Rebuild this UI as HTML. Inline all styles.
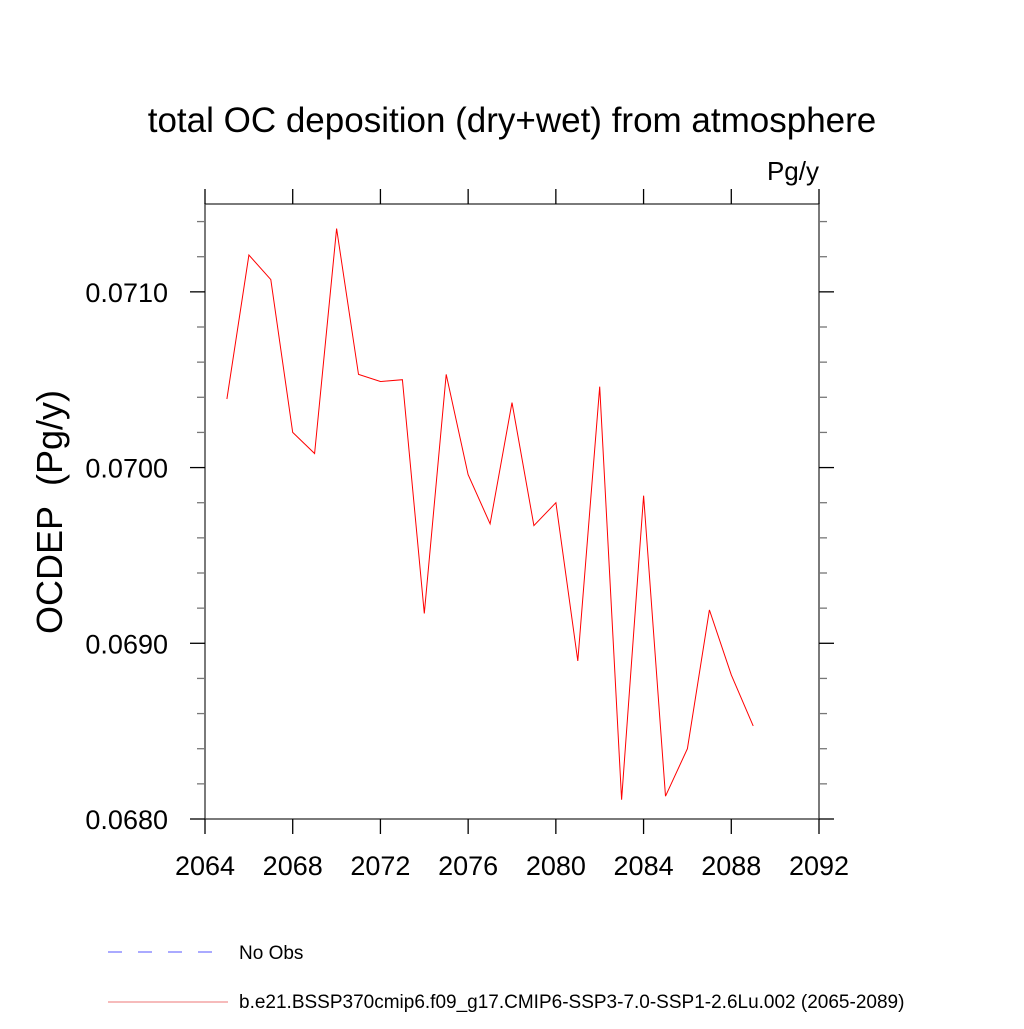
<!DOCTYPE html>
<html><head><meta charset="utf-8"><style>
html,body{margin:0;padding:0;background:#fff;}
svg text{font-family:"Liberation Sans",sans-serif;}
</style></head><body>
<svg id="chart" width="1024" height="1024" viewBox="0 0 1024 1024" xmlns="http://www.w3.org/2000/svg">
<rect width="1024" height="1024" fill="#fff"/>
<text x="512" y="132" font-size="35" text-anchor="middle">total OC deposition (dry+wet) from atmosphere</text>
<text x="819" y="180" font-size="26" text-anchor="end">Pg/y</text>
<text x="0" y="0" font-size="36" text-anchor="middle" transform="translate(62,512) rotate(-90)">OCDEP&#160;&#160;(Pg/y)</text>
<g id="axes"></g>
<g id="series"></g>
<g>
<line x1="108" y1="952" x2="215" y2="952" stroke="#7777ff" stroke-width="1.2" stroke-dasharray="14,16"/>
<text x="239" y="959" font-size="19">No Obs</text>
<line x1="108" y1="1002" x2="228" y2="1002" stroke="#ee7777" stroke-width="1"/>
<text x="239" y="1008" font-size="19">b.e21.BSSP370cmip6.f09_g17.CMIP6-SSP3-7.0-SSP1-2.6Lu.002 (2065-2089)</text>
</g>
</svg>
<script>
const years=[2065,2066,2067,2068,2069,2070,2071,2072,2073,2074,2075,2076,2077,2078,2079,2080,2081,2082,2083,2084,2085,2086,2087,2088,2089];
const ocdep=[0.07039,0.07121,0.07107,0.07020,0.07008,0.07136,0.07053,0.07049,0.07050,0.06917,0.07053,0.06996,0.06968,0.07037,0.06967,0.06980,0.06890,0.07046,0.06811,0.06984,0.06813,0.06840,0.06919,0.06882,0.06853];
const xTicks=[2064,2068,2072,2076,2080,2084,2088,2092];
const yTicks=[0.0680,0.0690,0.0700,0.0710];
const yTickLabels=["0.0680","0.0690","0.0700","0.0710"];
const X0=205,X1=819,Y0=819,Y1=204;
const xMin=2064,xMax=2092,yMin=0.0680,yMax=0.07150;
function xs(v){return X0+(v-xMin)/(xMax-xMin)*(X1-X0);}
function ys(v){return Y0-(v-yMin)/(yMax-yMin)*(Y0-Y1);}
const NS="http://www.w3.org/2000/svg";
const axes=document.getElementById('axes');
function mk(tag,attrs,parent){const e=document.createElementNS(NS,tag);for(const k in attrs)e.setAttribute(k,attrs[k]);parent.appendChild(e);return e;}
const frame=mk('rect',{x:X0,y:Y1,width:X1-X0,height:Y0-Y1,fill:'none',stroke:'#333','stroke-width':1.3},axes);


xTicks.forEach(t=>{
  const x=xs(t);
  const a=mk('line',{x1:x,y1:Y0,x2:x,y2:Y0+15,stroke:'#000','stroke-width':1.3},axes);
  
  
  const b=mk('line',{x1:x,y1:Y1,x2:x,y2:Y1-15,stroke:'#000','stroke-width':1.3},axes);
  
  
  const tx=mk('text',{x:x,y:Y0+56,'font-size':27,'text-anchor':'middle'},axes);
  tx.textContent=String(t);
  
  
});
for(let i=0;i<=17;i++){
  const v=yMin+i*0.0002;
  if(v>yMax+1e-9)break;
  const y=ys(v);
  const major=(i%5===0);
  const len=major?15:8;
  const l=mk('line',{x1:X0,y1:y,x2:X0-len,y2:y,stroke:major?'#000':'#777','stroke-width':1.3},axes);
  
  
  const r=mk('line',{x1:X1,y1:y,x2:X1+len,y2:y,stroke:major?'#000':'#777','stroke-width':1.3},axes);
  
  
}
yTicks.forEach((t,i)=>{
  const tx=mk('text',{x:X0-37,y:ys(t)+10,'font-size':27,'text-anchor':'end'},axes);
  tx.textContent=yTickLabels[i];
  
  
});
const pts=years.map((yr,i)=>xs(yr).toFixed(1)+','+ys(ocdep[i]).toFixed(1)).join(' ');
const pl=mk('polyline',{points:pts,fill:'none',stroke:'#ff0000','stroke-width':1},document.getElementById('series'));


</script>
</body></html>
